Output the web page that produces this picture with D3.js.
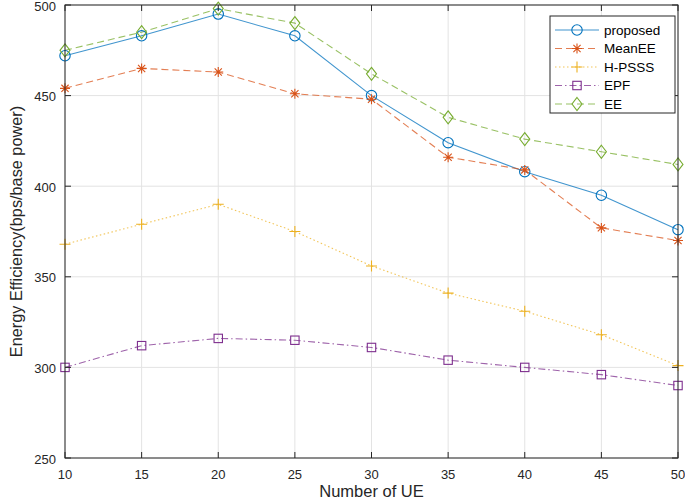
<!DOCTYPE html>
<html><head><meta charset="utf-8">
<script src="https://cdn.jsdelivr.net/npm/d3@7"></script>
<style>body{margin:0;background:#fff}svg{font-family:"Liberation Sans",Arial,sans-serif}</style>
</head><body>
<svg id="c" width="685" height="502"></svg>
<script>
const xValues = [10,15,20,25,30,35,40,45,50];
const proposed = [472,483,495,483,450,424,408,395,376];
const meanEE   = [454,465,463,451,448,416,409,377,370];
const hPSSS    = [368,379,390,375,356,341,331,318,301];
const epf      = [300,312,316,315,311,304,300,296,290];
const ee       = [475,485,498,490,462,438,426,419,412];
const seriesNames = ["proposed","MeanEE","H-PSSS","EPF","EE"];
const xTicks = [10,15,20,25,30,35,40,45,50];
const yTicks = [250,300,350,400,450,500];

const svg = d3.select("#c");
const L=65,R=678,T=5,B=458;
const x = d3.scaleLinear().domain([10,50]).range([L,R]);
const y = d3.scaleLinear().domain([250,500]).range([B,T]);
const axisCol="#262626";

// grid
const g = svg.append("g");
g.selectAll(".gx").data(xTicks).join("line").attr("x1",d=>x(d)).attr("x2",d=>x(d)).attr("y1",T).attr("y2",B).attr("stroke","#e3e3e3").attr("stroke-width",1);
g.selectAll(".gy").data(yTicks).join("line").attr("x1",L).attr("x2",R).attr("y1",d=>y(d)).attr("y2",d=>y(d)).attr("stroke","#e3e3e3").attr("stroke-width",1);

const styles = [
  {data:proposed,color:"#0072BD",dash:null,marker:"circle"},
  {data:meanEE,color:"#D95319",dash:"7,4",marker:"star"},
  {data:hPSSS,color:"#EDB120",dash:"1.5,2.5",marker:"plus"},
  {data:epf,color:"#7E2F8E",dash:"7,3,1.5,3",marker:"square"},
  {data:ee,color:"#77AC30",dash:"7,4",marker:"diamond"}
];

function drawMarker(sel,type,cx,cy,color){
  const m = sel.append("g").attr("transform",`translate(${cx},${cy})`).attr("fill","none").attr("stroke",color).attr("stroke-width",1.1);
  if(type==="circle") m.append("circle").attr("r",5.2);
  else if(type==="square") m.append("rect").attr("x",-4.2).attr("y",-4.2).attr("width",8.4).attr("height",8.4);
  else if(type==="diamond") m.append("path").attr("d","M0,-6.5L5,0L0,6.5L-5,0Z");
  else if(type==="plus") m.append("path").attr("d","M-5.5,0H5.5M0,-5.5V5.5");
  else if(type==="star") m.append("path").attr("d","M-5,0H5M0,-5V5M-3.6,-3.6L3.6,3.6M-3.6,3.6L3.6,-3.6");
}

const line = d3.line().x((d,i)=>x(xValues[i])).y(d=>y(d));
const plot = svg.append("g");
styles.forEach(s=>{
  plot.append("path").datum(s.data).attr("d",line).attr("fill","none").attr("stroke",s.color).attr("stroke-opacity",0.75).attr("stroke-width",1.1).attr("stroke-dasharray",s.dash);
});
styles.forEach(s=>{
  s.data.forEach((v,i)=>drawMarker(plot,s.marker,x(xValues[i]),y(v),s.color));
});

// axes box
const ax = svg.append("g");
ax.append("rect").attr("x",L).attr("y",T).attr("width",R-L).attr("height",B-T).attr("fill","none").attr("stroke",axisCol).attr("stroke-width",1);
const tl=6;
xTicks.forEach(t=>{
  ax.append("line").attr("x1",x(t)).attr("x2",x(t)).attr("y1",B).attr("y2",B-tl).attr("stroke",axisCol);
  ax.append("line").attr("x1",x(t)).attr("x2",x(t)).attr("y1",T).attr("y2",T+tl).attr("stroke",axisCol);
  ax.append("text").attr("x",x(t)).attr("y",B+21).attr("text-anchor","middle").attr("font-size",13).attr("fill",axisCol).text(t);
});
yTicks.forEach(t=>{
  ax.append("line").attr("x1",L).attr("x2",L+tl).attr("y1",y(t)).attr("y2",y(t)).attr("stroke",axisCol);
  ax.append("line").attr("x1",R).attr("x2",R-tl).attr("y1",y(t)).attr("y2",y(t)).attr("stroke",axisCol);
  ax.append("text").attr("x",L-9).attr("y",y(t)+1).attr("dy","0.36em").attr("text-anchor","end").attr("font-size",13).attr("fill",axisCol).text(t);
});
svg.append("text").attr("x",(L+R)/2+0).attr("y",497).attr("text-anchor","middle").attr("font-size",16.5).attr("fill",axisCol).text("Number of UE");
svg.append("text").attr("transform",`translate(22,${(T+B)/2}) rotate(-90)`).attr("text-anchor","middle").attr("font-size",16.3).attr("fill",axisCol).text("Energy Efficiency(bps/base power)");

// legend
const lg = svg.append("g");
lg.append("rect").attr("x",550).attr("y",16).attr("width",125).attr("height",97).attr("fill","#fff").attr("stroke",axisCol).attr("stroke-width",1);
styles.forEach((s,i)=>{
  const ly = 30 + i*18.5;
  lg.append("line").attr("x1",555).attr("x2",599).attr("y1",ly).attr("y2",ly).attr("stroke",s.color).attr("stroke-opacity",0.75).attr("stroke-width",1.1).attr("stroke-dasharray",s.dash);
  drawMarker(lg,s.marker,577,ly,s.color);
  lg.append("text").attr("x",604).attr("y",ly).attr("dy","0.36em").attr("font-size",13.5).attr("fill","#000").text(seriesNames[i]);
});
</script>
</body></html>
